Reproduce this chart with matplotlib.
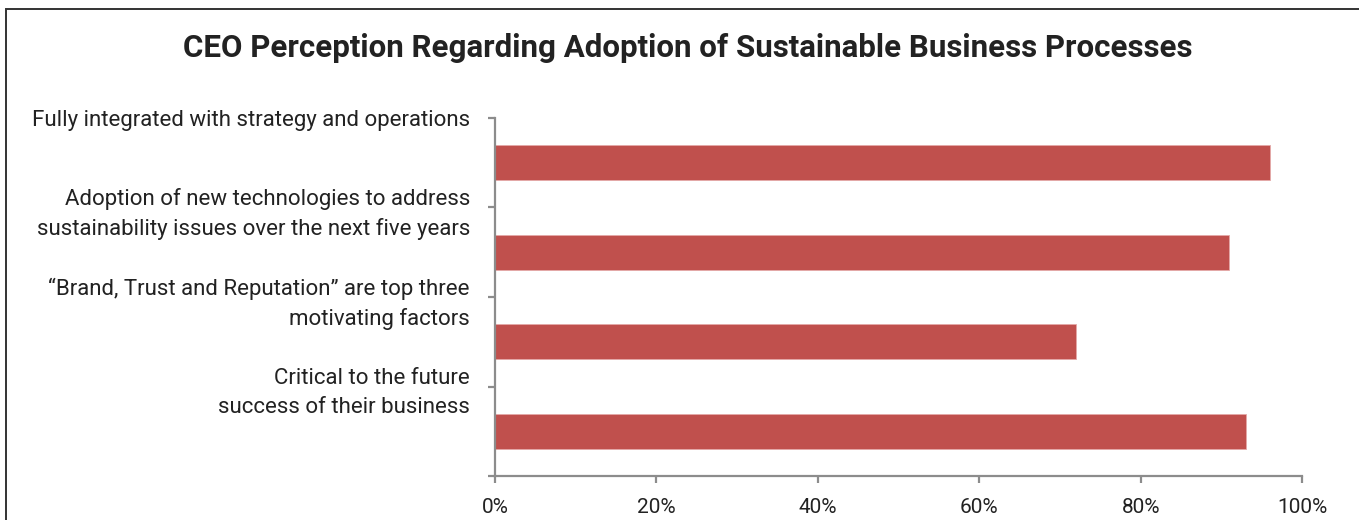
import matplotlib
matplotlib.use("Agg")
import matplotlib.pyplot as plt
from matplotlib.patches import Rectangle
from matplotlib.ticker import FuncFormatter

categories = [
    "Fully integrated with strategy and operations",
    "Adoption of new technologies to address\nsustainability issues over the next five years",
    "\u201cBrand, Trust and Reputation\u201d are top three\nmotivating factors",
    "Critical to the future\nsuccess of their business",
]
values = [96, 91, 72, 93]
x_ticks = [0, 20, 40, 60, 80, 100]
title = "CEO Perception Regarding Adoption of Sustainable Business Processes"

FONT = ["Roboto", "DejaVu Sans"]
plt.rcParams["font.family"] = FONT

fig = plt.figure(figsize=(13.59, 5.2), dpi=100)
ax = fig.add_axes([0.3642, 0.0846, 0.9581 - 0.3642, 0.7731 - 0.0846])

pos = [i + 0.5 for i in range(len(categories))]
ax.barh(pos, values, height=0.39, color="#C0504D", edgecolor="#E4A9A8", linewidth=0.6)

ax.set_xlim(0, 100)
ax.set_ylim(len(categories), 0)
ax.set_xticks(x_ticks)
ax.xaxis.set_major_formatter(FuncFormatter(lambda v, p: f"{v:.0f}%"))
ax.set_yticks(list(range(len(categories) + 1)))
ax.set_yticklabels(categories + [""], fontsize=16, color="#222222", linespacing=1.5)

for s in ["top", "right"]:
    ax.spines[s].set_visible(False)
for s in ["left", "bottom"]:
    ax.spines[s].set_color("#8c8c8c")
    ax.spines[s].set_linewidth(1.6)
ax.tick_params(axis="y", length=5, width=1.6, color="#8c8c8c", pad=13)
ax.tick_params(axis="x", length=5, width=1.6, color="#8c8c8c", pad=10.5,
               labelsize=15, labelcolor="#222222")

fig.text(0.506, 0.908, title, ha="center", va="center", fontsize=22.5,
         fontweight="bold", color="#222222")

fig.patches.append(Rectangle((6 / 1359, -0.1), 1.2, 1 - 9 / 520 + 0.1,
                             transform=fig.transFigure, fill=False,
                             edgecolor="#333333", linewidth=1.4))

fig.savefig("out.png", dpi=100)
